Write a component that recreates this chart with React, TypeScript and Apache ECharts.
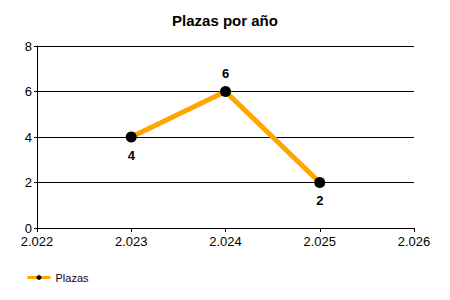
import React, { useEffect, useRef } from "react";
import * as echarts from "echarts";

const years = [2023, 2024, 2025];
const plazas = [4, 6, 2];
const labelPositions = ["bottom", "top", "bottom"];
const seriesName = "Plazas";
const titleText = "Plazas por año";

const FONT = "Liberation Sans";

export default function App() {
  const ref = useRef<HTMLDivElement>(null);
  useEffect(() => {
    if (!ref.current) return;
    const chart = echarts.init(ref.current, undefined, { renderer: "svg" });
    chart.setOption({
      animation: false,
      backgroundColor: "#ffffff",
      title: {
        text: titleText,
        left: "center",
        top: 8,
        textStyle: { fontFamily: FONT, fontSize: 15, fontWeight: "bold", color: "#000" },
      },
      legend: {
        left: 21,
        top: 267,
        itemWidth: 23,
        itemHeight: 6,
        itemGap: 5,
        lineStyle: { width: 3, color: "#FFA500" },
        itemStyle: { color: "#000" },
        textStyle: { fontFamily: FONT, fontSize: 11, color: "#200020", padding: [0, 0, 0, 0] },
        data: [{ name: seriesName }],
      },
      grid: { left: 37, right: 36, top: 46, bottom: 72 },
      xAxis: {
        type: "value",
        min: 2022,
        max: 2026,
        interval: 1,
        axisLine: { lineStyle: { color: "#000", width: 1 } },
        axisTick: { show: true, length: 4, lineStyle: { color: "#000" } },
        splitLine: { show: false },
        axisLabel: {
          fontFamily: FONT,
          fontSize: 13,
          color: "#000",
          margin: 7,
          formatter: (v: number) => {
            const s = String(v);
            return s.slice(0, s.length - 3) + "." + s.slice(-3);
          },
        },
      },
      yAxis: {
        type: "value",
        min: 0,
        max: 8,
        interval: 2,
        axisLine: { show: true, lineStyle: { color: "#000", width: 1 } },
        axisTick: { show: true, length: 3, lineStyle: { color: "#000" } },
        splitLine: { show: true, lineStyle: { color: "#000", width: 1 } },
        axisLabel: { fontFamily: FONT, fontSize: 13, color: "#000", margin: 5 },
      },
      series: [
        {
          name: seriesName,
          type: "line",
          data: years.map((y, i) => ({
            value: [y, plazas[i]],
            label: { position: labelPositions[i] },
          })),
          symbol: "circle",
          symbolSize: 11,
          itemStyle: { color: "#000" },
          lineStyle: { color: "#FFA500", width: 5 },
          label: {
            show: true,
            fontFamily: FONT,
            fontSize: 13,
            fontWeight: "bold",
            color: "#000",
            distance: 6,
            formatter: (p: any) => String(p.value[1]),
          },
        },
      ],
    });
    return () => chart.dispose();
  }, []);
  return (
    <div
      ref={ref}
      style={{ position: "fixed", left: 0, top: 0, width: 450, height: 300 }}
    />
  );
}
